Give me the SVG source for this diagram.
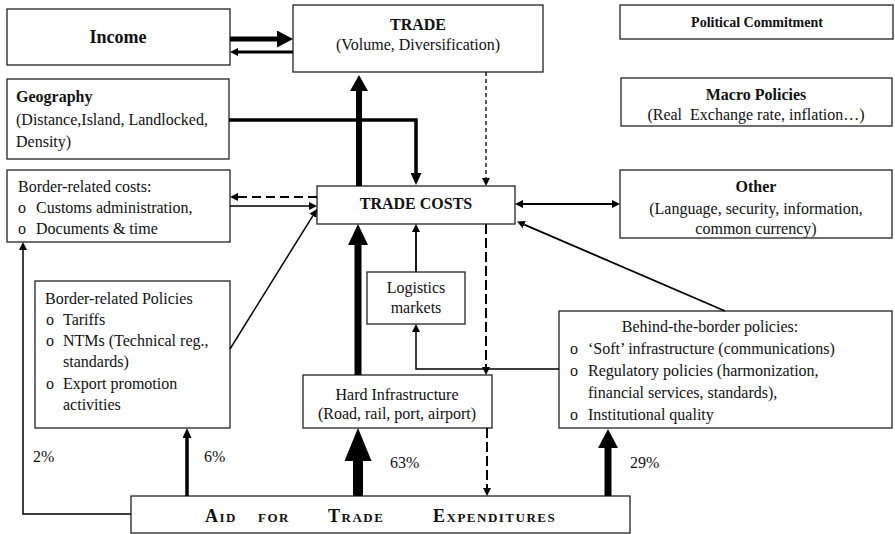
<svg xmlns="http://www.w3.org/2000/svg" width="895" height="534" viewBox="0 0 895 534">
<style>
.box{fill:#fff;stroke:#222;stroke-width:1.3}
.t{font-family:"Liberation Serif","DejaVu Serif","Noto Serif",serif;font-size:16px;fill:#111}
.b{font-weight:bold}
.c{text-anchor:middle}
.big{font-size:18px}
.pc{font-size:14px}
.cn line,.cn path{stroke:#000;fill:none}
.ah{fill:#000;stroke:none}
.sc{font-family:"Liberation Serif","DejaVu Serif","Noto Serif",serif;font-weight:bold;fill:#111;letter-spacing:1.5px;font-size:18px}
.sm{font-size:13px}
</style>
<defs>
<marker id="mS" viewBox="0 0 8 8" refX="0" refY="4" markerWidth="8" markerHeight="8" markerUnits="userSpaceOnUse" orient="auto-start-reverse"><path class="ah" d="M0,0L8,4L0,8z"/></marker>
<marker id="mI" viewBox="0 0 16 17" refX="0" refY="8.5" markerWidth="16" markerHeight="17" markerUnits="userSpaceOnUse" orient="auto"><path class="ah" d="M0,0L16,8.5L0,17z"/></marker>
<marker id="mG" viewBox="0 0 12 11" refX="0" refY="5.5" markerWidth="12" markerHeight="11" markerUnits="userSpaceOnUse" orient="auto"><path class="ah" d="M0,0L12,5.5L0,11z"/></marker>
<marker id="mT" viewBox="0 0 16 18" refX="0" refY="9" markerWidth="16" markerHeight="18" markerUnits="userSpaceOnUse" orient="auto"><path class="ah" d="M0,0L16,9L0,18z"/></marker>
<marker id="mH" viewBox="0 0 21 20" refX="0" refY="10" markerWidth="21" markerHeight="20" markerUnits="userSpaceOnUse" orient="auto"><path class="ah" d="M0,0L21,10L0,20z"/></marker>
<marker id="mX" viewBox="0 0 33 27" refX="0" refY="13.5" markerWidth="33" markerHeight="27" markerUnits="userSpaceOnUse" orient="auto"><path class="ah" d="M0,0L33,13.5L0,27z"/></marker>
<marker id="m6" viewBox="0 0 10 9" refX="0" refY="4.5" markerWidth="10" markerHeight="9" markerUnits="userSpaceOnUse" orient="auto"><path class="ah" d="M0,0L10,4.5L0,9z"/></marker>
<marker id="m29" viewBox="0 0 19 20" refX="0" refY="10" markerWidth="19" markerHeight="20" markerUnits="userSpaceOnUse" orient="auto"><path class="ah" d="M0,0L19,10L0,20z"/></marker>
</defs>
<rect width="895" height="534" fill="#fff"/>

<g id="income"><rect class="box" x="7" y="9" width="223" height="56"/><text class="t b c big" x="118" y="43">Income</text></g>
<g id="trade"><rect class="box" x="293" y="5" width="250" height="67"/><text class="t b c" x="418" y="30">TRADE</text><text class="t c" x="418" y="50">(Volume, Diversification)</text></g>
<g id="political"><rect class="box" x="620" y="5" width="273" height="34"/><text class="t b c pc" x="757" y="27">Political Commitment</text></g>
<g id="geography"><rect class="box" x="7" y="79" width="222" height="80"/><text class="t b" x="16" y="102">Geography</text><text class="t" x="16" y="125">(Distance,Island, Landlocked,</text><text class="t" x="16" y="147">Density)</text></g>
<g id="macro"><rect class="box" x="621" y="78" width="271" height="48"/><text class="t b c" x="756" y="100">Macro Policies</text><text class="t c" x="756" y="120" xml:space="preserve">(Real  Exchange rate, inflation…)</text></g>
<g id="border-costs"><rect class="box" x="7" y="170" width="223" height="72"/><text class="t" x="18" y="192">Border-related costs:</text><text class="t" x="18" y="213">o</text><text class="t" x="36" y="213">Customs administration,</text><text class="t" x="18" y="234">o</text><text class="t" x="36" y="234">Documents &amp; time</text></g>
<g id="trade-costs"><rect class="box" x="317" y="186" width="198" height="38"/><text class="t b c" x="416" y="209">TRADE COSTS</text></g>
<g id="other"><rect class="box" x="620" y="170" width="272" height="68"/><text class="t b c" x="756" y="192">Other</text><text class="t c" x="756" y="214">(Language, security, information,</text><text class="t c" x="756" y="234">common currency)</text></g>
<g id="logistics"><rect class="box" x="367" y="272" width="98" height="52"/><text class="t c" x="416" y="293">Logistics</text><text class="t c" x="416" y="313">markets</text></g>
<g id="border-policies"><rect class="box" x="35" y="281" width="195" height="147"/><text class="t" x="45" y="304">Border-related Policies</text><text class="t" x="46" y="325">o</text><text class="t" x="63" y="325">Tariffs</text><text class="t" x="46" y="346">o</text><text class="t" x="63" y="346">NTMs (Technical reg.,</text><text class="t" x="63" y="367">standards)</text><text class="t" x="46" y="389">o</text><text class="t" x="63" y="389">Export promotion</text><text class="t" x="63" y="410">activities</text></g>
<g id="behind"><rect class="box" x="559" y="311" width="333" height="117"/><text class="t c" x="710" y="332">Behind-the-border policies:</text><text class="t" x="570" y="354">o</text><text class="t" x="588" y="354">‘Soft’ infrastructure (communications)</text><text class="t" x="570" y="376">o</text><text class="t" x="588" y="376">Regulatory policies (harmonization,</text><text class="t" x="588" y="398">financial services, standards),</text><text class="t" x="570" y="420">o</text><text class="t" x="588" y="420">Institutional quality</text></g>
<g id="hard"><rect class="box" x="303" y="375" width="189" height="53"/><text class="t c" x="397" y="400">Hard Infrastructure</text><text class="t c" x="397" y="419">(Road, rail, port, airport)</text></g>
<g id="aft"><rect class="box" x="131" y="496" width="499" height="37"/>
<text class="sc" x="205" y="522">A<tspan class="sm">ID</tspan></text>
<text class="sc sm" x="258" y="522">FOR</text>
<text class="sc" x="328" y="522">T<tspan class="sm">RADE</tspan></text>
<text class="sc" x="433" y="522">E<tspan class="sm">XPENDITURES</tspan></text></g>

<g id="labels"><text class="t" x="33" y="462">2%</text><text class="t" x="204" y="462">6%</text><text class="t" x="390" y="468">63%</text><text class="t" x="630" y="468">29%</text></g>

<g id="connectors" class="cn">
<line x1="230" y1="39" x2="277" y2="39" stroke-width="5" marker-end="url(#mI)"/>
<line x1="293" y1="52" x2="238" y2="52" stroke-width="3" marker-end="url(#mS)"/>
<path d="M229,120H416V173" stroke-width="3.5" marker-end="url(#mG)"/>
<line x1="359" y1="186" x2="359" y2="91" stroke-width="6" marker-end="url(#mT)"/>
<line x1="486" y1="72" x2="486" y2="178" stroke-width="1.3" stroke-dasharray="4 3" marker-end="url(#mS)"/>
<line x1="317" y1="197" x2="238" y2="197" stroke-width="1.8" stroke-dasharray="9 5" marker-end="url(#mS)"/>
<line x1="230" y1="206" x2="309" y2="206" stroke-width="1.5" marker-end="url(#mS)"/>
<line x1="230" y1="349" x2="312.8" y2="215.8" stroke-width="1.5" marker-end="url(#mS)"/>
<line x1="523" y1="204" x2="612" y2="204" stroke-width="1.8" marker-start="url(#mS)" marker-end="url(#mS)"/>
<line x1="725" y1="311" x2="524.3" y2="224.6" stroke-width="1.8" marker-end="url(#mS)"/>
<line x1="416" y1="272" x2="416" y2="232" stroke-width="1.8" marker-end="url(#mS)"/>
<path d="M559,369H416V332" stroke-width="1.5" marker-end="url(#mS)"/>
<line x1="486" y1="224" x2="486" y2="367" stroke-width="2" stroke-dasharray="10 4" marker-end="url(#mS)"/>
<line x1="487" y1="428" x2="487" y2="488" stroke-width="2" stroke-dasharray="10 4" marker-end="url(#mS)"/>
<line x1="358" y1="375" x2="358" y2="245" stroke-width="7" marker-end="url(#mH)"/>
<line x1="358" y1="496" x2="358" y2="461" stroke-width="10" marker-end="url(#mX)"/>
<line x1="187" y1="496" x2="187" y2="438" stroke-width="3.5" marker-end="url(#m6)"/>
<line x1="608" y1="496" x2="608" y2="448" stroke-width="7" marker-end="url(#m29)"/>
<path d="M131,514H23V250" stroke-width="1.5" marker-end="url(#mS)"/>
</g>
</svg>
